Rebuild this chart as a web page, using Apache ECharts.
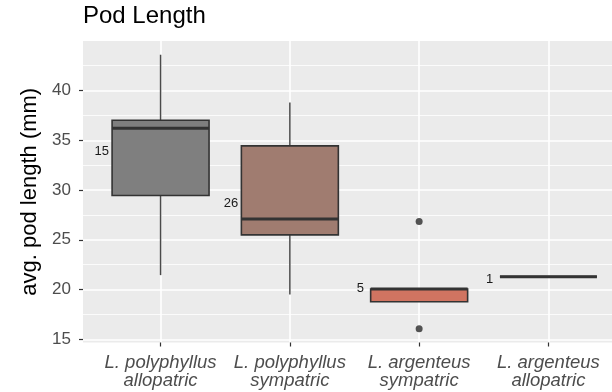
<!DOCTYPE html>
<html>
<head>
<meta charset="utf-8">
<script src="https://cdn.jsdelivr.net/npm/echarts@6/dist/echarts.min.js"></script>
<style>
  html, body { margin: 0; padding: 0; background: #fff; }
  #chart { width: 612px; height: 392px; }
</style>
</head>
<body>
<div id="chart"></div>
<script>
// Groups along the x axis
const categories = [
  'L. polyphyllus\nallopatric',
  'L. polyphyllus\nsympatric',
  'L. argenteus\nsympatric',
  'L. argenteus\nallopatric'
];

// Box statistics per group (mm)
const whiskerLow  = [21.45, 19.5, 18.78, 21.3];
const q1          = [29.46, 25.5, 18.78, 21.3];
const median      = [36.2, 27.08, 20.05, 21.3];
const q3          = [37.02, 34.44, 20.05, 21.3];
const whiskerHigh = [43.6, 38.8, 20.05, 21.3];

// Outlying points: [group index, value]
const outliers = [[2, 26.85], [2, 16.06]];

// Sample sizes and the height at which they are printed
const counts = [15, 26, 5, 1];
const countY = [33.9, 28.65, 20.1, 21.0];

// Y axis breaks
const majorTicks = [15, 20, 25, 30, 35, 40];
const minorTicks = [17.5, 22.5, 27.5, 32.5, 37.5, 42.5];

const fills = ['#7F7F7F', '#A07C70', '#D07461', '#E0604A'];

const FONT = 'Liberation Sans, Arial, sans-serif';
const BOX_W = 0.75;        // box width in category units
const LABEL_DX = -0.455;   // count label offset in category units

const boxData = categories.map((c, i) =>
  [i, whiskerLow[i], q1[i], median[i], q3[i], whiskerHigh[i]]);
const countData = counts.map((n, i) => [i, countY[i], n]);

const chart = echarts.init(document.getElementById('chart'), null, { renderer: 'canvas' });

chart.setOption({
  animation: false,
  backgroundColor: '#fff',
  title: {
    text: 'Pod Length',
    left: 83,
    top: 4,
    padding: 0,
    textStyle: { fontFamily: FONT, fontSize: 24, fontWeight: 'normal', color: '#000' }
  },
  grid: {
    left: 83,
    top: 41,
    width: 543,
    height: 301.5,
    show: true,
    backgroundColor: '#EBEBEB',
    borderWidth: 0,
    outerBoundsMode: 'none'
  },
  xAxis: {
    type: 'value',
    min: -0.6,
    max: 3.6,
    axisLine: { show: false, onZero: false },
    axisTick: {
      show: true, length: 4, customValues: [0, 1, 2, 3],
      lineStyle: { color: '#333', width: 1.2 }
    },
    axisLabel: {
      customValues: [0, 1, 2, 3],
      formatter: v => categories[Math.round(v)],
      fontFamily: FONT, fontSize: 18.5, fontStyle: 'italic',
      color: '#4D4D4D', lineHeight: 18.5, margin: 11
    },
    splitLine: { show: true, lineStyle: { color: '#fff', width: 1.6 } }
  },
  yAxis: [
    {
      type: 'value',
      min: 14.68,
      max: 44.98,
      name: 'avg. pod length (mm)',
      nameLocation: 'middle',
      nameGap: 38,
      nameTextStyle: { fontFamily: FONT, fontSize: 22, color: '#000' },
      axisLine: { show: false, onZero: false },
      axisTick: {
        show: true, length: 4, customValues: majorTicks,
        lineStyle: { color: '#333', width: 1.2 }
      },
      axisLabel: {
        customValues: majorTicks,
        fontFamily: FONT, fontSize: 17, color: '#4D4D4D', margin: 12
      },
      splitLine: { show: true, lineStyle: { color: '#fff', width: 1.6 } }
    },
    {
      type: 'value',
      min: 14.68,
      max: 44.98,
      axisLine: { show: false, onZero: false },
      axisTick: { show: false, customValues: minorTicks },
      axisLabel: { show: false, customValues: minorTicks },
      splitLine: { show: true, lineStyle: { color: '#fff', width: 0.8 } }
    }
  ],
  series: [
    {
      type: 'custom',
      name: 'boxes',
      data: boxData,
      z: 3,
      renderItem: function (params, api) {
        const i = api.value(0);
        const x = api.coord([i, 0])[0];
        const half = api.size([BOX_W, 0])[0] / 2;
        const y = v => api.coord([i, v])[1];
        const yLo = y(api.value(1)), yQ1 = y(api.value(2)), yMed = y(api.value(3)),
              yQ3 = y(api.value(4)), yHi = y(api.value(5));
        const lineStyle = { stroke: '#4A4A4A', lineWidth: 1.5 };
        return {
          type: 'group',
          children: [
            { type: 'line', shape: { x1: x, y1: yQ3, x2: x, y2: yHi }, style: lineStyle },
            { type: 'line', shape: { x1: x, y1: yQ1, x2: x, y2: yLo }, style: lineStyle },
            {
              type: 'rect',
              shape: { x: x - half, y: yQ3, width: half * 2, height: yQ1 - yQ3 },
              style: { fill: fills[params.dataIndex], stroke: '#333', lineWidth: 1.6 }
            },
            {
              type: 'line',
              shape: { x1: x - half, y1: yMed, x2: x + half, y2: yMed },
              style: { stroke: '#333', lineWidth: 3 }
            }
          ]
        };
      }
    },
    {
      type: 'scatter',
      name: 'outliers',
      data: outliers,
      z: 4,
      symbol: 'circle',
      symbolSize: 7,
      itemStyle: { color: '#2B2B2B' }
    },
    {
      type: 'custom',
      name: 'counts',
      data: countData,
      z: 5,
      renderItem: function (params, api) {
        const p = api.coord([api.value(0) + LABEL_DX, api.value(1)]);
        return {
          type: 'text',
          x: p[0], y: p[1],
          style: {
            text: String(api.value(2)),
            fontFamily: FONT, fontSize: 13,
            fill: '#1A1A1A',
            align: 'center', verticalAlign: 'middle'
          }
        };
      }
    }
  ]
});
</script>
</body>
</html>
